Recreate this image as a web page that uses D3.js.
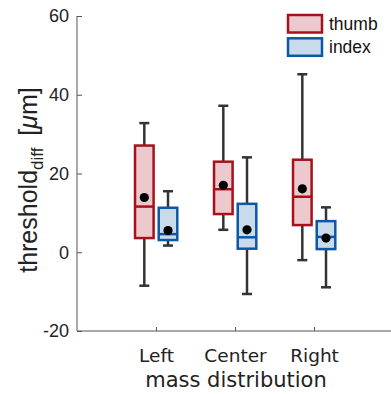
<!DOCTYPE html>
<html>
<head>
<meta charset="utf-8">
<script src="https://cdn.jsdelivr.net/npm/d3@7/dist/d3.min.js"></script>
<style>
html,body{margin:0;padding:0;background:#fff;}
svg{display:block;}
</style>
</head>
<body>
<svg id="chart" width="391" height="394"></svg>
<script>
const categories = ["Left", "Center", "Right"];
const seriesNames = ["thumb", "index"];
// [whiskerLow, Q1, median, Q3, whiskerHigh, mean]
const thumbStats = [
  [-8.5, 3.6, 11.6, 27.1, 32.8, 13.9],
  [5.7, 9.7, 16.0, 23.0, 37.2, 17.0],
  [-2.0, 6.9, 14.1, 23.5, 45.2, 16.1]
];
const indexStats = [
  [1.7, 3.1, 4.6, 11.3, 15.5, 5.5],
  [-10.6, 0.9, 3.8, 12.3, 24.1, 5.7],
  [-8.9, 0.8, 3.9, 7.9, 11.4, 3.6]
];
const yTicks = [-20, 0, 20, 40, 60];

const strokeCols = ["#a8101c", "#0d58a6"];
const fillCols = ["#ecc9cc", "#c9daeb"];
const offsets = [-0.148, 0.152];

const svg = d3.select("#chart");
const x = d3.scaleLinear().domain([0, 4]).range([77, 393]);
const y = d3.scaleLinear().domain([-20, 60]).range([331, 16]);
const axisCol = "#555";

// axes
const yAxis = svg.append("g").attr("transform", "translate(77,0)")
  .call(d3.axisLeft(y).tickValues(yTicks).tickSize(-5).tickPadding(8).tickFormat(d => String(d)));
yAxis.select(".domain").attr("stroke", axisCol).attr("d", `M0,${y(60)}V${y(-20)}`);
yAxis.selectAll(".tick line").attr("stroke", axisCol);
yAxis.selectAll(".tick text").attr("font-family", "'Liberation Sans', Arial, sans-serif")
  .attr("font-size", 18).attr("fill", "#222");

const xAxis = svg.append("g").attr("transform", "translate(0,331)")
  .call(d3.axisBottom(x).tickValues([1, 2, 3]).tickSize(-4).tickPadding(14)
    .tickFormat(d => categories[d - 1]));
xAxis.select(".domain").attr("stroke", axisCol).attr("d", `M77,0H393`);
xAxis.selectAll(".tick line").attr("stroke", axisCol);
xAxis.selectAll(".tick text").attr("font-family", "'DejaVu Sans', sans-serif")
  .attr("font-size", 18.5).attr("fill", "#222").attr("dy", "0.9em");

// x label
svg.append("text").attr("x", 236).attr("y", 387).attr("text-anchor", "middle")
  .attr("font-family", "'DejaVu Sans', sans-serif").attr("font-size", 21).attr("fill", "#222")
  .text("mass distribution");

// y label
const yl = svg.append("text").attr("transform", "translate(37,180) rotate(-90)")
  .attr("text-anchor", "middle").attr("font-family", "'Liberation Sans', Arial, sans-serif")
  .attr("font-size", 25).attr("fill", "#222");
yl.append("tspan").text("threshold");
yl.append("tspan").attr("font-size", 17).attr("dy", 6).text("diff");
yl.append("tspan").attr("dy", -6).attr("dx", 5).text(" [");
yl.append("tspan").attr("font-style", "italic").text("\u03BC");
yl.append("tspan").text("m]");

// boxes
const boxW = 0.235;
const capW = 10;
[thumbStats, indexStats].forEach((stats, si) => {
  const g = svg.append("g");
  stats.forEach((s, ci) => {
    const cx = x(ci + 1 + offsets[si]);
    const [lo, q1, med, q3, hi, mean] = s;
    const bw = x(boxW) - x(0);
    g.append("line").attr("x1", cx).attr("x2", cx).attr("y1", y(hi)).attr("y2", y(q3))
      .attr("stroke", "#333").attr("stroke-width", 2.5);
    g.append("line").attr("x1", cx).attr("x2", cx).attr("y1", y(q1)).attr("y2", y(lo))
      .attr("stroke", "#333").attr("stroke-width", 2.5);
    [hi, lo].forEach(v => g.append("line").attr("x1", cx - capW / 2).attr("x2", cx + capW / 2)
      .attr("y1", y(v)).attr("y2", y(v)).attr("stroke", "#333").attr("stroke-width", 2.5));
    g.append("rect").attr("x", cx - bw / 2).attr("y", y(q3)).attr("width", bw)
      .attr("height", y(q1) - y(q3)).attr("fill", fillCols[si])
      .attr("stroke", strokeCols[si]).attr("stroke-width", 2.5);
    g.append("line").attr("x1", cx - bw / 2).attr("x2", cx + bw / 2)
      .attr("y1", y(med)).attr("y2", y(med)).attr("stroke", strokeCols[si]).attr("stroke-width", 2.5);
    g.append("circle").attr("cx", cx).attr("cy", y(mean)).attr("r", 4.6).attr("fill", "#000");
  });
});

// legend
const leg = svg.append("g");
seriesNames.forEach((n, i) => {
  const ly = 15 + i * 23.3;
  leg.append("rect").attr("x", 288).attr("y", ly).attr("width", 34).attr("height", 17.5)
    .attr("fill", fillCols[i]).attr("stroke", strokeCols[i]).attr("stroke-width", 2.5);
  leg.append("text").attr("x", 329).attr("y", ly + 14.5)
    .attr("font-family", "'Liberation Sans', Arial, sans-serif").attr("font-size", 17.5)
    .attr("fill", "#111").text(n);
});
</script>
</body>
</html>
